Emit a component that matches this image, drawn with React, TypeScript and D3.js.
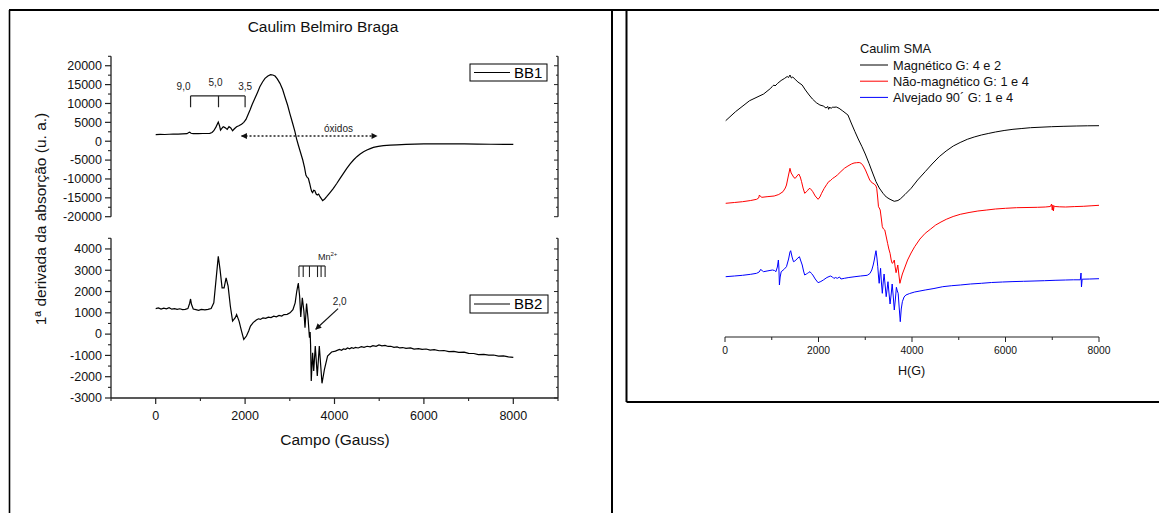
import React from "react";
import * as d3 from "d3";

// ---------- Left chart data: Caulim Belmiro Braga (field in Gauss, 1st derivative u.a.) ----------
const bb1: [number, number][] = [
  [0, 1750], [100, 1800], [200, 1780], [300, 1850], [390, 1900], [500, 1880], [600, 1950], [700, 2000],
  [740, 2300], [760, 2400], [790, 2100], [840, 1990], [950, 2000], [1050, 2050], [1150, 2050], [1210, 2080],
  [1260, 2300], [1300, 2780], [1350, 3800], [1400, 5080], [1430, 4000], [1450, 2960], [1480, 3400], [1510, 3850],
  [1550, 3600], [1600, 3140], [1640, 3850], [1680, 3500], [1720, 2780], [1760, 3300], [1810, 3850], [1860, 4100],
  [1920, 4500], [1970, 5000], [2020, 5790], [2060, 6900], [2110, 8260], [2160, 9800], [2220, 11360], [2280, 13000],
  [2330, 14440], [2390, 15700], [2445, 16650], [2510, 17300], [2570, 17620], [2620, 17550], [2670, 17270],
  [2720, 16500], [2780, 15330], [2840, 13700], [2890, 11790], [2950, 9600], [3000, 7390], [3060, 4900],
  [3115, 2520], [3150, 700], [3190, -1010], [3240, -3000], [3290, -4980], [3330, -7000], [3360, -8950],
  [3390, -9600], [3415, -9840], [3445, -11200], [3470, -12490], [3490, -13300], [3510, -13620], [3535, -13000],
  [3560, -13100], [3590, -14000], [3615, -14250], [3645, -14000], [3675, -14700], [3705, -15200], [3735, -15750],
  [3780, -15300], [3825, -14700], [3900, -13600], [3975, -12490], [4050, -11200], [4125, -9840], [4200, -8500],
  [4275, -7190], [4350, -6000], [4425, -4980], [4500, -4100], [4575, -3390], [4650, -2800], [4725, -2330],
  [4800, -1950], [4870, -1620], [4980, -1350], [5095, -1190], [5250, -1050], [5395, -950], [5600, -850],
  [5800, -780], [6000, -720], [6300, -680], [6600, -690], [6900, -720], [7200, -760], [7500, -800],
  [7800, -840], [8000, -860],
];

const bb2: [number, number][] = [
  [0, 1200], [60, 1230], [120, 1180], [180, 1220], [240, 1190], [300, 1240], [360, 1170], [420, 1200],
  [480, 1160], [540, 1190], [600, 1150], [660, 1160], [720, 1200], [760, 1450], [780, 1650], [800, 1400],
  [840, 1180], [900, 1150], [960, 1120], [1020, 1160], [1100, 1140], [1170, 1160], [1240, 1200], [1300, 1470],
  [1350, 2560], [1400, 3650], [1440, 3030], [1485, 2170], [1530, 2170], [1575, 2640], [1620, 2250],
  [1670, 1310], [1720, 610], [1780, 770], [1810, 920], [1865, 610], [1920, 140], [1970, -250], [2030, -90],
  [2080, 150], [2120, 375], [2180, 540], [2250, 660], [2300, 720], [2340, 690], [2400, 760], [2460, 740],
  [2520, 800], [2580, 780], [2640, 840], [2700, 810], [2760, 880], [2820, 850], [2870, 920], [2940, 930],
  [3005, 1000], [3070, 1150], [3120, 1470], [3155, 2000], [3190, 2400], [3220, 1780], [3245, 810],
  [3280, 1700], [3315, 1080], [3340, 300], [3375, 1440], [3410, 690], [3440, -170], [3455, 100],
  [3465, -500], [3480, -2200], [3510, -875], [3535, -1730], [3570, -560], [3615, -1970], [3660, -560],
  [3720, -2310], [3775, -1660], [3845, -1030], [3935, -840], [4020, -800], [4110, -720], [4160, -760],
  [4200, -690], [4250, -710], [4290, -650], [4340, -690], [4380, -640], [4430, -670], [4465, -620],
  [4530, -650], [4600, -590], [4660, -620], [4730, -570], [4800, -600], [4860, -540], [4930, -570],
  [4995, -510], [5060, -550], [5130, -530], [5200, -580], [5260, -570], [5330, -620], [5400, -600],
  [5460, -650], [5525, -630], [5600, -670], [5700, -650], [5780, -700], [5880, -680], [5960, -720],
  [6050, -700], [6140, -750], [6230, -730], [6340, -780], [6450, -770], [6560, -820], [6670, -810],
  [6780, -860], [6900, -850], [7000, -900], [7115, -910], [7220, -960], [7340, -950], [7450, -990],
  [7560, -980], [7670, -1030], [7780, -1020], [7890, -1070], [8000, -1090],
];

// ---------- Right chart data: Caulim SMA (arbitrary units, stacked) ----------
const magnetico: [number, number][] = [
  [15, 216.3], [225, 225.3], [526, 236.3], [826, 243], [977, 248.7], [1010, 250.5], [1030, 251.5], [1050, 252],
  [1070, 251], [1127, 253.7], [1200, 256.5], [1277, 258.7], [1330, 260.5], [1360, 259.5], [1390, 262],
  [1420, 259], [1450, 260], [1500, 257.7], [1560, 255], [1650, 252], [1720, 247], [1800, 242], [1870, 238],
  [1953, 234.3], [2030, 232], [2103, 231], [2160, 229], [2200, 230.5], [2216, 227.7], [2240, 230],
  [2270, 228.5], [2300, 230], [2329, 229.7], [2380, 230], [2440, 228.7], [2520, 226], [2630, 222],
  [2700, 214], [2780, 205.3], [2850, 198], [2930, 190.3], [3000, 183], [3080, 173.7], [3150, 165],
  [3230, 155.3], [3300, 149], [3380, 143.7], [3450, 140], [3530, 137.7], [3620, 135.7], [3700, 136.5],
  [3756, 138.3], [3850, 142.5], [3981, 148.7], [4120, 157], [4282, 165.3], [4430, 173], [4582, 180.3],
  [4730, 186], [4883, 191], [5030, 194.5], [5183, 197.7], [5330, 200], [5484, 202], [5630, 203.5],
  [5784, 205], [5970, 206.5], [6160, 207.7], [6350, 208.5], [6535, 209.3], [6760, 209.8], [6986, 210.3],
  [7250, 210.7], [7512, 211], [7750, 211.2], [8000, 211.3],
];

const naoMagnetico: [number, number][] = [
  [15, 133.7], [200, 134.5], [376, 135.3], [550, 136.5], [676, 137.7], [720, 139], [736, 142], [760, 140.5],
  [789, 139.7], [900, 140.3], [1052, 141], [1150, 142.5], [1240, 145.3], [1290, 149], [1315, 152],
  [1350, 160], [1390, 168.7], [1415, 164], [1442, 162], [1472, 159.5], [1502, 158.7], [1540, 161],
  [1578, 163], [1610, 160], [1638, 155.3], [1670, 149], [1705, 143.7], [1735, 145], [1765, 146.3],
  [1790, 148], [1818, 148.7], [1850, 147], [1878, 145.3], [1930, 141], [1991, 137.7], [2030, 140],
  [2066, 143.7], [2120, 148.5], [2178, 152.7], [2220, 155.5], [2254, 156.3], [2300, 158.5], [2350, 160],
  [2404, 162], [2480, 165.5], [2554, 168.7], [2630, 171], [2704, 173], [2760, 174], [2817, 174.3],
  [2870, 174.5], [2915, 173.7], [2960, 171], [3005, 167], [3050, 162], [3095, 157], [3150, 154],
  [3193, 153], [3230, 151], [3245, 148.7], [3265, 140], [3283, 130.3], [3300, 129], [3320, 127],
  [3345, 118], [3365, 110.3], [3390, 108], [3418, 107], [3450, 100], [3478, 93.7], [3505, 88],
  [3531, 83.7], [3555, 77], [3576, 73.7], [3600, 74.5], [3621, 77], [3640, 70], [3659, 64.3], [3678, 68],
  [3696, 72], [3720, 62], [3741, 53.7], [3765, 58], [3794, 63], [3850, 70], [3906, 77], [3980, 84],
  [4057, 90.3], [4170, 98], [4282, 103.7], [4400, 108], [4507, 112], [4620, 115], [4733, 117.7],
  [4880, 120.5], [5033, 122.7], [5220, 124.5], [5409, 126], [5600, 127], [5784, 128], [6000, 128.7],
  [6235, 129.3], [6460, 129.5], [6686, 129.7], [6850, 130], [6960, 130.5], [6986, 133], [7000, 127],
  [7015, 132], [7024, 126], [7040, 131], [7061, 130.5], [7150, 130.2], [7287, 130], [7470, 130.4],
  [7663, 130.7], [7830, 131.2], [8000, 131.7],
];

const alvejado: [number, number][] = [
  [15, 60.3], [200, 61], [376, 61.7], [550, 62.7], [676, 63.7], [730, 65], [766, 67.7], [800, 66],
  [826, 65.3], [900, 66], [1014, 67], [1060, 66.5], [1089, 65.3], [1120, 70], [1142, 77], [1152, 70],
  [1164, 52], [1180, 60], [1202, 65.3], [1260, 67.5], [1315, 70.3], [1360, 78], [1390, 85], [1405, 86.3],
  [1435, 80], [1465, 75.3], [1495, 76], [1517, 77], [1560, 79], [1592, 80.3], [1622, 76], [1652, 72],
  [1680, 66], [1705, 62], [1740, 63], [1765, 63.7], [1790, 64.5], [1818, 65.3], [1850, 63.5], [1878, 62],
  [1930, 58], [1991, 54.3], [2050, 55.5], [2103, 57], [2180, 59.5], [2254, 61], [2300, 60], [2330, 58.5],
  [2360, 59.5], [2404, 58.7], [2450, 60], [2480, 58], [2554, 58.7], [2650, 59.5], [2780, 60.3],
  [2900, 61], [3042, 61.7], [3100, 63.5], [3140, 67], [3170, 72], [3193, 77], [3215, 83], [3230, 86.3],
  [3250, 79], [3268, 70.3], [3285, 60], [3298, 53.7], [3313, 62], [3328, 68.7], [3345, 55], [3365, 43.7],
  [3385, 55], [3403, 63], [3425, 52], [3448, 40.3], [3468, 48], [3486, 55.3], [3508, 44], [3531, 33],
  [3555, 43], [3576, 53], [3600, 40], [3621, 27], [3645, 38], [3666, 49.7], [3686, 46], [3704, 43.7],
  [3725, 30], [3749, 15.3], [3770, 28], [3794, 35.3], [3830, 40], [3869, 42], [3950, 43.5], [4057, 45],
  [4170, 46], [4282, 47], [4470, 48.5], [4658, 50.3], [4850, 51.3], [5033, 52], [5250, 53], [5484, 53.7],
  [5700, 54.5], [5935, 55], [6160, 55.4], [6385, 55.7], [6610, 56], [6836, 56.3], [7060, 56.7],
  [7287, 57], [7450, 57.2], [7600, 57.2], [7615, 64], [7625, 50], [7640, 57.8], [7800, 58], [8000, 58.3],
];

// ---------- Ticks and labels ----------
const leftXTicks = [0, 2000, 4000, 6000, 8000];
const leftXMinor = [-1000, 1000, 3000, 5000, 7000, 9000];
const topYTicks = [20000, 15000, 10000, 5000, 0, -5000, -10000, -15000, -20000];
const topYMinor = [17500, 12500, 7500, 2500, -2500, -7500, -12500, -17500, 22500];
const botYTicks = [4000, 3000, 2000, 1000, 0, -1000, -2000, -3000];
const botYMinor = [3500, 2500, 1500, 500, -500, -1500, -2500, 4500];
const rightXTicks = [0, 2000, 4000, 6000, 8000];
const rightXMinor = [1000, 3000, 5000, 7000];

const leftTitle = "Caulim Belmiro Braga";
const leftYLabel = "1ª derivada da absorção (u. a.)";
const leftXLabel = "Campo (Gauss)";
const rightXLabel = "H(G)";
const rightLegendTitle = "Caulim SMA";
const rightSeriesNames = ["Magnético G: 4 e 2", "Não-magnético G: 1 e 4", "Alvejado 90´ G: 1 e 4"];
const rightSeriesColors = ["#000000", "#ff0000", "#0000ff"];

// annotations (data units)
const gBracketFields = [780, 1405, 2000];
const gBracketLabels = ["9,0", "5,0", "3,5"];
const mnLineFields = [3205, 3300, 3440, 3620, 3700, 3790];

const FONT = "'Liberation Sans', Arial, Helvetica, sans-serif";

export default function App() {
  const xL = d3.scaleLinear().domain([-1000, 9000]).range([111, 558]);
  const yTop = d3.scaleLinear().domain([-20000, 22500]).range([216.7, 56.3]);
  const yBot = d3.scaleLinear().domain([-3000, 4500]).range([398, 238.3]);
  const xR = d3.scaleLinear().domain([0, 8000]).range([725, 1099]);
  const yR = d3.scaleLinear().domain([0, 300]).range([337, 37]);

  const lineTop = d3.line<[number, number]>().x((d) => xL(d[0])).y((d) => yTop(d[1]));
  const lineBot = d3.line<[number, number]>().x((d) => xL(d[0])).y((d) => yBot(d[1]));
  const lineR = d3.line<[number, number]>().x((d) => xR(d[0])).y((d) => yR(d[1]));

  const axisColor = "#222";
  const xLeft = xL(-1000);
  const xRight = xL(9000);
  const rightSeries = [magnetico, naoMagnetico, alvejado];

  const legendY0 = 65;
  const legendDy = 16.2;

  return (
    <svg
      width={1159}
      height={513}
      style={{ position: "fixed", left: 0, top: 0, background: "#fff" }}
      fontFamily={FONT}
    >
      <defs>
        <marker id="arrowHead" viewBox="0 0 10 10" refX="9" refY="5" markerWidth="8" markerHeight="6" orient="auto-start-reverse" markerUnits="userSpaceOnUse">
          <path d="M0,0 L10,5 L0,10 z" fill="#111" />
        </marker>
        <marker id="arrowHead2" viewBox="0 0 10 10" refX="9" refY="5" markerWidth="7" markerHeight="6" orient="auto" markerUnits="userSpaceOnUse">
          <path d="M0,0 L10,5 L0,10 z" fill="#111" />
        </marker>
      </defs>
      <rect x={0} y={0} width={1159} height={513} fill="#fff" />

      {/* table frame */}
      <line x1={9} x2={1159} y1={10} y2={10} stroke="#000" strokeWidth={2.2} />
      <line x1={9.5} x2={9.5} y1={10} y2={513} stroke="#000" strokeWidth={1.6} />
      <line x1={612} x2={612} y1={10} y2={513} stroke="#000" strokeWidth={2} />
      <line x1={626.5} x2={626.5} y1={10} y2={402} stroke="#000" strokeWidth={2} />
      <line x1={626.5} x2={1159} y1={402} y2={402} stroke="#000" strokeWidth={2} />

      {/* ================= LEFT CHART ================= */}
      <text x={323} y={32} textAnchor="middle" fontSize={15.5} fill="#111">{leftTitle}</text>

      {/* top panel axes */}
      <line x1={xLeft} x2={xLeft} y1={yTop(22500)} y2={yTop(-20000)} stroke={axisColor} strokeWidth={1.3} />
      <line x1={xRight} x2={xRight} y1={yTop(22500)} y2={yTop(-20000)} stroke={axisColor} strokeWidth={1.3} />
      {topYTicks.map((t) => (
        <g key={"tt" + t}>
          <line x1={xLeft - 6} x2={xLeft} y1={yTop(t)} y2={yTop(t)} stroke={axisColor} strokeWidth={1.2} />
          <line x1={xRight - 4} x2={xRight} y1={yTop(t)} y2={yTop(t)} stroke={axisColor} strokeWidth={1} />
          <text x={xLeft - 9} y={yTop(t)} dy="0.35em" textAnchor="end" fontSize={12.5} fill="#111">{String(t)}</text>
        </g>
      ))}
      {topYMinor.map((t) => (
        <g key={"tm" + t}>
          <line x1={xLeft - 3} x2={xLeft} y1={yTop(t)} y2={yTop(t)} stroke={axisColor} strokeWidth={1.1} />
          <line x1={xRight - 2} x2={xRight} y1={yTop(t)} y2={yTop(t)} stroke={axisColor} strokeWidth={1} />
        </g>
      ))}
      <path d={lineTop(bb1) || ""} fill="none" stroke="#000" strokeWidth={1.2} />

      {/* BB1 legend */}
      <rect x={470} y={64} width={77} height={17} fill="#fff" stroke="#000" strokeWidth={1} />
      <line x1={474} x2={510} y1={72.5} y2={72.5} stroke="#000" strokeWidth={1.2} />
      <text x={514} y={72.5} dy="0.36em" fontSize={15} fill="#000">BB1</text>

      {/* g-value brackets */}
      <line x1={xL(gBracketFields[0])} x2={xL(gBracketFields[2])} y1={yTop(12000)} y2={yTop(12000)} stroke="#222" strokeWidth={1.2} />
      {gBracketFields.map((f) => (
        <line key={"gb" + f} x1={xL(f)} x2={xL(f)} y1={yTop(12000)} y2={yTop(9000)} stroke="#222" strokeWidth={1.2} />
      ))}
      {gBracketLabels.map((lab, i) => (
        <text key={"gl" + lab} x={xL(gBracketFields[i]) + (i === 0 ? -7 : i === 1 ? -3 : 0)} y={yTop(i === 1 ? 14500 : 13700)} textAnchor="middle" fontSize={10} fill="#222">{lab}</text>
      ))}

      {/* óxidos arrow */}
      <line x1={xL(1920)} x2={xL(4950)} y1={yTop(1380)} y2={yTop(1380)} stroke="#222" strokeWidth={1.3} strokeDasharray="2,2" markerStart="url(#arrowHead)" markerEnd="url(#arrowHead)" />
      <text x={xL(4090)} y={yTop(2450)} textAnchor="middle" fontSize={10} fill="#222">óxidos</text>

      {/* bottom panel axes */}
      <line x1={xLeft} x2={xLeft} y1={yBot(4500)} y2={yBot(-3000)} stroke={axisColor} strokeWidth={1.3} />
      <line x1={xRight} x2={xRight} y1={yBot(4500)} y2={yBot(-3000)} stroke={axisColor} strokeWidth={1.3} />
      <line x1={xLeft} x2={xRight} y1={yBot(-3000)} y2={yBot(-3000)} stroke={axisColor} strokeWidth={1.4} />
      {botYTicks.map((t) => (
        <g key={"bt" + t}>
          <line x1={xLeft - 6} x2={xLeft} y1={yBot(t)} y2={yBot(t)} stroke={axisColor} strokeWidth={1.2} />
          <line x1={xRight - 4} x2={xRight} y1={yBot(t)} y2={yBot(t)} stroke={axisColor} strokeWidth={1} />
          <text x={xLeft - 9} y={yBot(t)} dy="0.35em" textAnchor="end" fontSize={12.5} fill="#111">{String(t)}</text>
        </g>
      ))}
      {botYMinor.map((t) => (
        <g key={"bm" + t}>
          <line x1={xLeft - 3} x2={xLeft} y1={yBot(t)} y2={yBot(t)} stroke={axisColor} strokeWidth={1.1} />
          <line x1={xRight - 2} x2={xRight} y1={yBot(t)} y2={yBot(t)} stroke={axisColor} strokeWidth={1} />
        </g>
      ))}
      {leftXTicks.map((t) => (
        <g key={"xt" + t}>
          <line x1={xL(t)} x2={xL(t)} y1={yBot(-3000)} y2={yBot(-3000) + 6} stroke={axisColor} strokeWidth={1.2} />
          <text x={xL(t)} y={420} textAnchor="middle" fontSize={12.5} fill="#111">{String(t)}</text>
        </g>
      ))}
      {leftXMinor.map((t) => (
        <line key={"xm" + t} x1={xL(t)} x2={xL(t)} y1={yBot(-3000)} y2={yBot(-3000) + 3} stroke={axisColor} strokeWidth={1.1} />
      ))}
      <text x={335} y={445} textAnchor="middle" fontSize={15.5} fill="#111">{leftXLabel}</text>
      <text transform="translate(46,219) rotate(-90)" textAnchor="middle" fontSize={15.5} fill="#111">{leftYLabel}</text>

      <path d={lineBot(bb2) || ""} fill="none" stroke="#000" strokeWidth={1.2} />

      {/* BB2 legend */}
      <rect x={470} y={295} width={78} height={18} fill="#fff" stroke="#000" strokeWidth={1} />
      <line x1={474} x2={510} y1={304} y2={304} stroke="#000" strokeWidth={1.2} />
      <text x={514} y={304} dy="0.36em" fontSize={15} fill="#000">BB2</text>

      {/* Mn2+ bracket */}
      <line x1={xL(mnLineFields[0])} x2={xL(mnLineFields[mnLineFields.length - 1])} y1={yBot(3200)} y2={yBot(3200)} stroke="#222" strokeWidth={1.2} />
      {mnLineFields.map((f) => (
        <line key={"mn" + f} x1={xL(f)} x2={xL(f)} y1={yBot(3200)} y2={yBot(2680)} stroke="#222" strokeWidth={1.1} />
      ))}
      <text x={xL(3630)} y={yBot(3480)} fontSize={9} fill="#222">
        Mn<tspan dy={-4} fontSize={6}>2+</tspan>
      </text>
      <text x={xL(3960)} y={yBot(1350)} fontSize={10} fill="#222">2,0</text>
      <line x1={xL(4080)} x2={xL(3580)} y1={yBot(1200)} y2={yBot(230)} stroke="#111" strokeWidth={1.2} markerEnd="url(#arrowHead2)" />

      {/* ================= RIGHT CHART ================= */}
      {rightSeries.map((s, i) => (
        <path key={"rs" + i} d={lineR(s) || ""} fill="none" stroke={rightSeriesColors[i]} strokeWidth={1} />
      ))}
      <line x1={xR(0)} x2={xR(8000)} y1={337} y2={337} stroke={axisColor} strokeWidth={1.2} />
      {rightXTicks.map((t) => (
        <g key={"rx" + t}>
          <line x1={xR(t)} x2={xR(t)} y1={337} y2={342} stroke={axisColor} strokeWidth={1} />
          <text x={xR(t)} y={354} textAnchor="middle" fontSize={10.3} fill="#111">{String(t)}</text>
        </g>
      ))}
      {rightXMinor.map((t) => (
        <line key={"rxm" + t} x1={xR(t)} x2={xR(t)} y1={337} y2={340} stroke={axisColor} strokeWidth={1} />
      ))}
      <text x={xR(3990)} y={375} textAnchor="middle" fontSize={12.6} fill="#111">{rightXLabel}</text>

      <text x={860} y={52.5} fontSize={12.8} fill="#111">{rightLegendTitle}</text>
      {rightSeriesNames.map((name, i) => (
        <g key={"rl" + i}>
          <line x1={860} x2={888} y1={legendY0 + i * legendDy} y2={legendY0 + i * legendDy} stroke={rightSeriesColors[i]} strokeWidth={1} />
          <text x={893} y={legendY0 + i * legendDy} dy="0.36em" fontSize={12.8} fill="#111">{name}</text>
        </g>
      ))}
    </svg>
  );
}
